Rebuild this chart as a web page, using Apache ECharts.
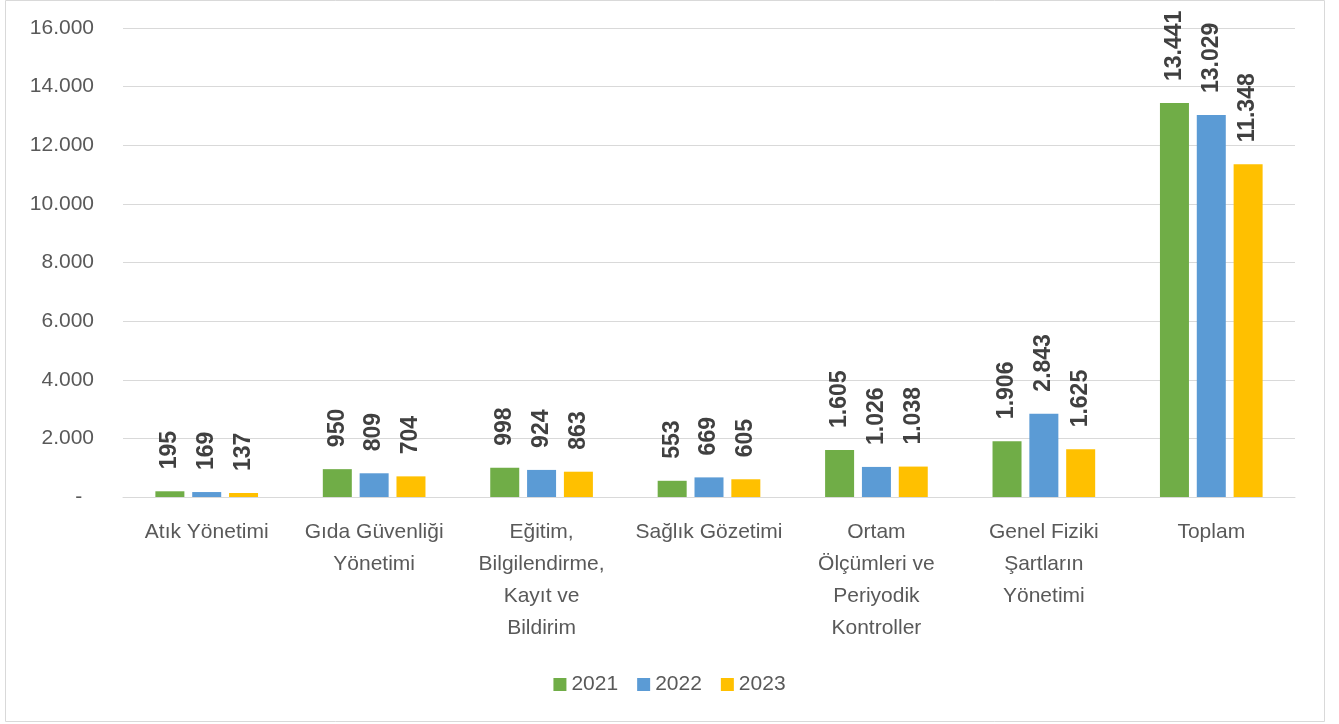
<!DOCTYPE html>
<html>
<head>
<meta charset="utf-8">
<script src="https://cdn.jsdelivr.net/npm/echarts@6/dist/echarts.min.js"></script>
<style>
  html, body { margin: 0; padding: 0; background: #fff; }
  #chart { width: 1339px; height: 724px; }
</style>
</head>
<body>
<div id="chart"></div>
<script>
const categories = [
  "Atık Yönetimi",
  "Gıda Güvenliği\nYönetimi",
  "Eğitim,\nBilgilendirme,\nKayıt ve\nBildirim",
  "Sağlık Gözetimi",
  "Ortam\nÖlçümleri ve\nPeriyodik\nKontroller",
  "Genel Fiziki\nŞartların\nYönetimi",
  "Toplam"
];
const years = ["2021", "2022", "2023"];
const values2021 = [195, 950, 998, 553, 1605, 1906, 13441];
const values2022 = [169, 809, 924, 669, 1026, 2843, 13029];
const values2023 = [137, 704, 863, 605, 1038, 1625, 11348];
const colors = ["#70AD47", "#5B9BD5", "#FFC000"];

// 13441 -> "13.441"
function fmt(v) {
  return String(v).replace(/\B(?=(\d{3})+(?!\d))/g, ".");
}

const font = "'Liberation Sans', Arial, sans-serif";

function makeSeries(name, data, color) {
  return {
    name: name,
    type: "bar",
    data: data,
    barWidth: 29,
    barGap: "27%",
    itemStyle: { color: color },
    label: {
      show: true,
      position: "top",
      rotate: 90,
      align: "left",
      verticalAlign: "middle",
      distance: 22,
      fontFamily: font,
      fontSize: 23,
      fontWeight: "bold",
      color: "#404040",
      formatter: (p) => fmt(p.value)
    }
  };
}

let chart = echarts.init(document.getElementById("chart"));
let option = {
  animation: false,
  textStyle: { fontFamily: font },
  graphic: [
    {
      type: "rect",
      shape: { x: 5.5, y: 0.5, width: 1319, height: 721 },
      style: { fill: "none", stroke: "#D9D9D9", lineWidth: 1 },
      silent: true
    }
  ],
  grid: { left: 123, right: 44, top: 28, bottom: 227 },
  legend: {
    data: years,
    bottom: 24,
    left: "center",
    icon: "rect",
    itemWidth: 13,
    itemHeight: 13,
    itemGap: 19,
    textStyle: { fontFamily: font, fontSize: 21, color: "#595959" }
  },
  xAxis: {
    type: "category",
    data: categories,
    axisLine: { lineStyle: { color: "#D9D9D9", width: 1 } },
    axisTick: { show: false },
    axisLabel: {
      interval: 0,
      margin: 19,
      fontFamily: font,
      fontSize: 21,
      lineHeight: 32,
      color: "#595959"
    }
  },
  yAxis: {
    type: "value",
    min: 0,
    max: 16000,
    interval: 2000,
    axisLine: { show: false },
    axisTick: { show: false },
    splitLine: { lineStyle: { color: "#D9D9D9", width: 1 } },
    axisLabel: {
      margin: 29,
      fontFamily: font,
      fontSize: 21,
      color: "#595959",
      formatter: (v) => (v === 0 ? "-  " : fmt(v))
    }
  },
  series: [
    makeSeries(years[0], values2021, colors[0]),
    makeSeries(years[1], values2022, colors[1]),
    makeSeries(years[2], values2023, colors[2])
  ]
};
chart.setOption(option);
</script>
</body>
</html>
